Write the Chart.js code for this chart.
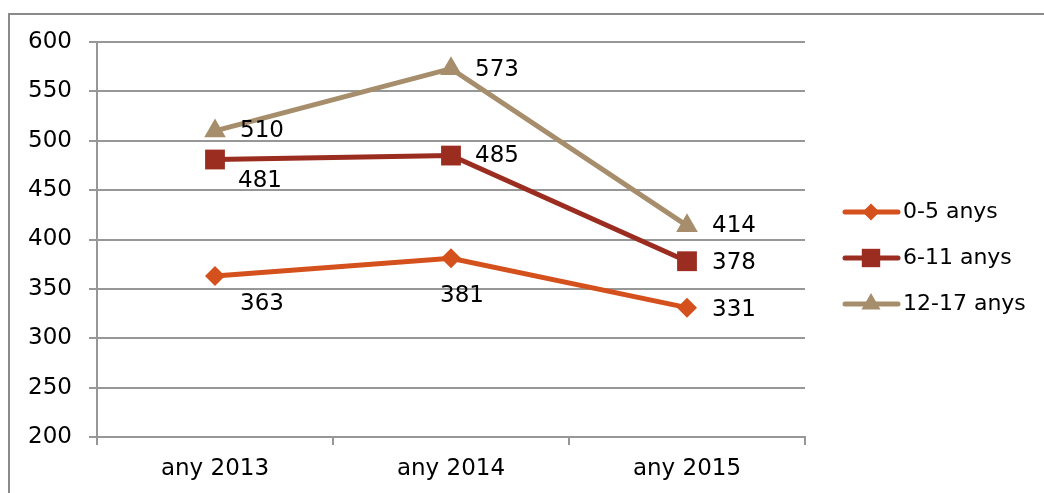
<!DOCTYPE html>
<html>
<head>
<meta charset="utf-8">
<script src="https://cdn.jsdelivr.net/npm/chart.js@4/dist/chart.umd.min.js"></script>
<style>
  html, body { margin: 0; padding: 0; background: #fff; }
  #wrap { width: 1044px; height: 493px; position: relative; }
</style>
</head>
<body>
<div id="wrap"><canvas id="chart"></canvas></div>
<script>
const years = ['any 2013', 'any 2014', 'any 2015'];
const kids0to5 = [363, 381, 331];
const kids6to11 = [481, 485, 378];
const kids12to17 = [510, 573, 414];
const seriesNames = ['0-5 anys', '6-11 anys', '12-17 anys'];
const yMin = 200, yMax = 600, yStep = 50;

const FONT = '"DejaVu Sans", sans-serif';
const GRID = '#979797';
const colors = ['#D4501C', '#9B2C20', '#A68E6C'];
const styles = ['rectRot', 'rect', 'triangle'];
const radii = [10, 14, 12.5];

// where each value label sits relative to its point: [dx, dy, align]
const labelPlace = [
  [[25, 28, 'left'], [11, 38, 'center'], [25, 2, 'left']],
  [[23, 22, 'left'], [24, 0, 'left'], [25, 2, 'left']],
  [[25, 0, 'left'], [24, 1, 'left'], [25, 0, 'left']]
];

function drawMarker(ctx, style, x, y, r) {
  ctx.beginPath();
  if (style === 'rectRot') {
    ctx.moveTo(x, y - r); ctx.lineTo(x + r, y); ctx.lineTo(x, y + r); ctx.lineTo(x - r, y);
  } else if (style === 'rect') {
    const s = r * Math.SQRT1_2;
    ctx.rect(x - s, y - s, 2 * s, 2 * s);
  } else {
    ctx.moveTo(x, y - r);
    ctx.lineTo(x + r * 0.866, y + r * 0.5);
    ctx.lineTo(x - r * 0.866, y + r * 0.5);
  }
  ctx.closePath();
  ctx.fill();
}

const framePlugin = {
  id: 'frame',
  beforeDraw(chart) {
    const ctx = chart.ctx;
    ctx.save();
    ctx.strokeStyle = '#8a8a8a';
    ctx.lineWidth = 2;
    ctx.strokeRect(9, 14, 2000, 2000);
    ctx.restore();
  }
};

const labelPlugin = {
  id: 'valueLabels',
  afterDatasetsDraw(chart) {
    const ctx = chart.ctx;
    ctx.save();
    ctx.font = '23px ' + FONT;
    ctx.fillStyle = '#000';
    ctx.textBaseline = 'middle';
    chart.data.datasets.forEach((ds, i) => {
      chart.getDatasetMeta(i).data.forEach((pt, j) => {
        const p = labelPlace[i][j];
        ctx.textAlign = p[2];
        ctx.fillText(String(ds.data[j]), pt.x + p[0], pt.y + p[1]);
      });
    });
    ctx.restore();
  }
};

const legendPlugin = {
  id: 'sideLegend',
  afterDraw(chart) {
    const ctx = chart.ctx;
    ctx.save();
    ctx.font = '22px ' + FONT;
    ctx.textBaseline = 'middle';
    ctx.textAlign = 'left';
    chart.data.datasets.forEach((ds, i) => {
      const y = 212 + i * 46;
      ctx.strokeStyle = ds.borderColor;
      ctx.lineWidth = 5;
      ctx.lineCap = 'round';
      ctx.beginPath();
      ctx.moveTo(845, y);
      ctx.lineTo(898, y);
      ctx.stroke();
      ctx.fillStyle = ds.borderColor;
      drawMarker(ctx, styles[i], 871, y, [8.5, 13, 11][i]);
      ctx.fillStyle = '#000';
      ctx.fillText(ds.label, 903, y);
    });
    ctx.restore();
  }
};

const seriesData = [kids0to5, kids6to11, kids12to17];

new Chart(document.getElementById('chart'), {
  type: 'line',
  data: {
    labels: years,
    datasets: seriesData.map((d, i) => ({
      label: seriesNames[i],
      data: d,
      borderColor: colors[i],
      backgroundColor: colors[i],
      pointBackgroundColor: colors[i],
      pointBorderWidth: 0,
      pointStyle: styles[i],
      pointRadius: radii[i],
      pointHoverRadius: radii[i],
      borderWidth: 5,
      tension: 0,
      fill: false
    }))
  },
  options: {
    responsive: true,
    maintainAspectRatio: false,
    animation: false,
    layout: { padding: { left: 0, top: 42, right: 239, bottom: 0 } },
    plugins: {
      legend: { display: false },
      tooltip: { enabled: false }
    },
    scales: {
      x: {
        offset: true,
        afterFit(s) { s.height = 56; },
        grid: { display: true, drawOnChartArea: false, offset: true, tickLength: 8, color: GRID, lineWidth: 2 },
        border: { display: true, color: GRID, width: 2 },
        ticks: { color: '#000', font: { family: FONT, size: 23 }, padding: 10 }
      },
      y: {
        min: yMin,
        max: yMax,
        afterFit(s) { s.width = 97; },
        grid: { color: GRID, lineWidth: 2, tickLength: 8 },
        border: { display: true, color: GRID, width: 2 },
        ticks: { stepSize: yStep, color: '#000', font: { family: FONT, size: 23 }, padding: 17 }
      }
    }
  },
  plugins: [framePlugin, labelPlugin, legendPlugin]
});
</script>
</body>
</html>
